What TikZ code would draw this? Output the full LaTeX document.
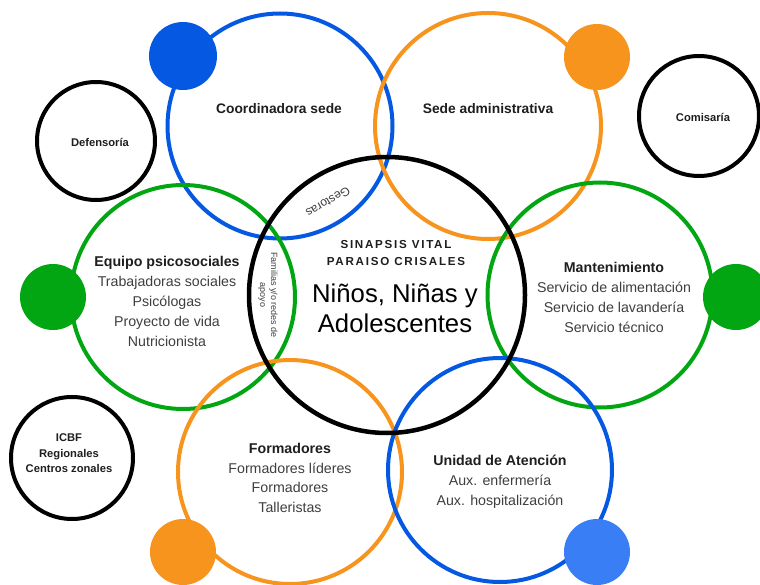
\documentclass[tikz,border=0pt]{standalone}
\usepackage{fontspec}
\setmainfont{Liberation Sans}
\newfontfamily\espaciada[LetterSpace=15]{Liberation Sans}

\definecolor{azul}{RGB}{4,88,226}
\definecolor{azulclaro}{RGB}{58,126,246}
\definecolor{naranja}{RGB}{247,148,30}
\definecolor{verde}{RGB}{2,166,18}
\definecolor{tinta}{RGB}{30,30,30}
\definecolor{gris}{RGB}{62,62,62}

\tikzset{
  aro/.style={circle, draw=#1, line width=4pt, inner sep=0pt},
  punto/.style={circle, fill=#1, inner sep=0pt, minimum size=66pt},
  bloque/.style={align=center, text=gris, font=\fontsize{14.2}{19.8}\selectfont},
  titulo/.style={align=center, text=tinta, font=\bfseries\fontsize{13.8}{16}\selectfont},
  chico/.style={align=center, text=tinta, font=\bfseries\fontsize{11.2}{15.5}\selectfont},
}

\begin{document}
\begin{tikzpicture}[x=1pt,y=-1pt]
\useasboundingbox (0,0) rectangle (760,585);

% aros de colores
\node[aro=azul, minimum size=225pt] (coordinadora) at (280,126) {};
\node[aro=naranja, minimum size=226pt] (sede) at (488,126) {};
\node[aro=verde, minimum size=224pt] (psico) at (183,297) {};
\node[aro=verde, minimum size=225pt] (mante) at (600,295) {};
\node[aro=naranja, minimum size=224pt] (forma) at (290,472) {};
\node[aro=azul, minimum size=224pt] (unidad) at (500,470) {};

% aros negros
\node[aro=black, minimum size=118pt] (defensoria) at (96,141) {};
\node[aro=black, minimum size=120pt] (comisaria) at (699,116) {};
\node[aro=black, minimum size=122pt] (icbf) at (72,458) {};
\node[aro=black, line width=4.5pt, minimum size=276pt] (centro) at (387,295) {};

% puntos
\node[punto=azul, minimum size=68pt] (puntoCoord) at (183,56) {};
\node[punto=naranja] (puntoSede) at (597,57) {};
\node[punto=verde] (puntoPsico) at (53,297) {};
\node[punto=verde] (puntoMante) at (736,297) {};
\node[punto=naranja] (puntoForma) at (183,552) {};
\node[punto=azulclaro] (puntoUnidad) at (597,552) {};

% textos
\node[titulo] (txtCoord) at (279,109) {Coordinadora sede};
\node[titulo] (txtSede) at (488,109) {Sede administrativa};
\node[chico] (txtDef) at (100,142) {Defensoría};
\node[chico] (txtCom) at (703,117) {Comisaría};
\node[chico] (txtIcbf) at (69,453.5) {ICBF\\Regionales\\Centros zonales};

\node[bloque] (txtPsico) at (167,301.5) {{\bfseries\color{tinta}Equipo psicosociales}\\Trabajadoras sociales\\Psicólogas\\Proyecto de vida\\Nutricionista};
\node[bloque] (txtMante) at (614,297.5) {{\bfseries\color{tinta}Mantenimiento}\\Servicio de alimentación\\Servicio de lavandería\\Servicio técnico};
\node[bloque] (txtForma) at (290,478) {{\bfseries\color{tinta}Formadores}\\Formadores líderes\\Formadores\\Talleristas};
\node[bloque] (txtUnidad) at (500,482) {{\bfseries\color{tinta}Unidad de Atención}\\Aux. enfermería\\Aux. hospitalización};

% centro
\node[align=center, text=tinta, font=\espaciada\bfseries\fontsize{11.6}{17}\selectfont] (txtSinapsis) at (396,253.5) {SINAPSIS VITAL\\PARAISO CRISALES};
\node[align=center, text=black, font=\fontsize{25.7}{30}\selectfont] (txtNinos) at (395,308) {Niños, Niñas y\\Adolescentes};
\node[text=gris, rotate=-150, font=\fontsize{12}{14}\selectfont] (txtGest) at (328,202) {Gestoras};
\node[align=center, text=gris, rotate=-90, font=\fontsize{9}{11}\selectfont] (txtFam) at (268,295) {Familias y/o redes de\\apoyo};
\end{tikzpicture}
\end{document}
